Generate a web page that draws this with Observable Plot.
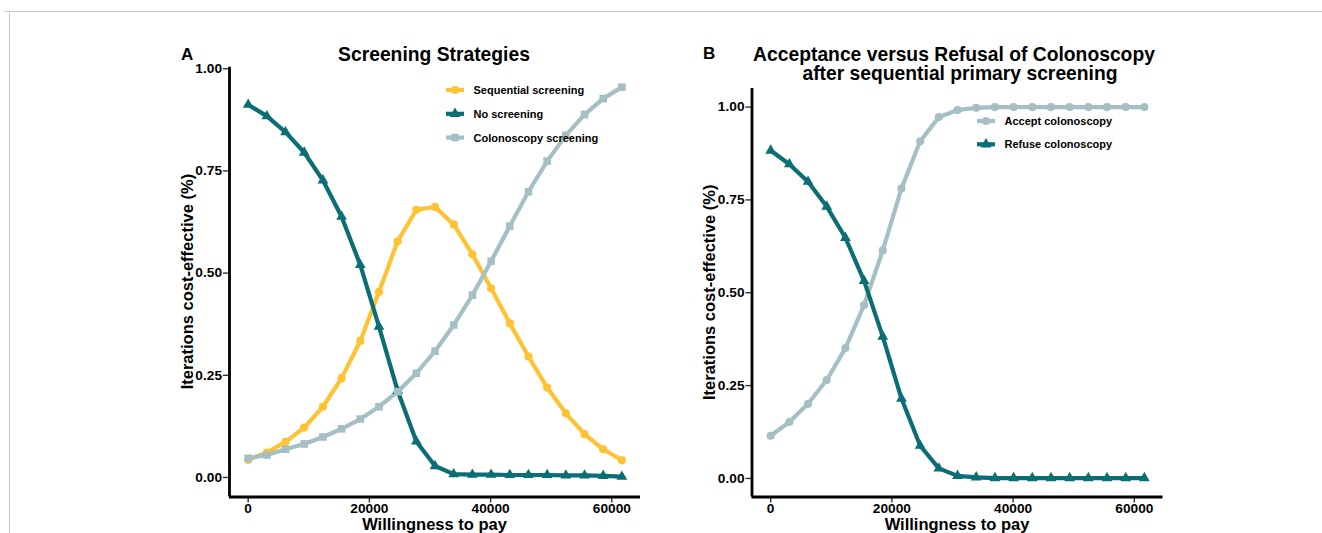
<!DOCTYPE html>
<html><head><meta charset="utf-8">
<script src="https://cdn.jsdelivr.net/npm/d3@7"></script>
<script src="https://cdn.jsdelivr.net/npm/@observablehq/plot@0.6"></script>
<style>
body{margin:0;background:#fff;}
#wrap{position:relative;width:1322px;height:533px;overflow:hidden;background:#fff;font-family:"Liberation Sans",Arial,sans-serif;}
.panel{position:absolute;top:0;}
#topline{position:absolute;left:4px;top:11px;width:1318px;height:1px;background:#c8c8c8;}
#leftline{position:absolute;left:9px;top:11px;width:1px;height:522px;background:#c8c8c8;}
</style></head><body>
<div id="wrap"><div id="topline"></div><div id="leftline"></div>
<div id="pa" class="panel" style="left:0px"></div>
<div id="pb" class="panel" style="left:661px"></div></div>
<script>
// ---- data ----
const wtp = [0, 3083, 6166, 9249, 12332, 15415, 18498, 21581, 24664, 27747, 30830, 33913, 36996, 40079, 43162, 46245, 49328, 52411, 55494, 58577, 61660];
const xTicks = [0, 20000, 40000, 60000];
const yTicks = [0, 0.25, 0.5, 0.75, 1];

const sequentialScreening = [0.043,0.061,0.087,0.122,0.173,0.243,0.334,0.454,0.578,0.655,0.662,0.619,0.546,0.463,0.377,0.296,0.220,0.157,0.106,0.069,0.042];
const noScreening        = [0.912,0.884,0.845,0.795,0.727,0.638,0.520,0.369,0.212,0.088,0.028,0.008,0.007,0.007,0.006,0.006,0.006,0.005,0.005,0.004,0.002];
const colonoscopyScreening = [0.047,0.055,0.069,0.082,0.099,0.119,0.143,0.173,0.210,0.255,0.309,0.373,0.446,0.529,0.615,0.699,0.774,0.837,0.888,0.927,0.955];

const acceptColonoscopy = [0.115,0.152,0.201,0.265,0.351,0.467,0.614,0.781,0.908,0.973,0.992,0.998,1,1,1,1,1,1,1,1,1];
const refuseColonoscopy = [0.883,0.846,0.799,0.732,0.648,0.532,0.382,0.215,0.088,0.027,0.007,0.003,0.001,0.001,0.001,0.001,0.001,0.001,0.001,0.001,0.001];

const YELLOW = "#FFC233", TEAL = "#0B6E75", GREY = "#A5C0C5";
const FONT = "'Liberation Sans', Arial, sans-serif";

const seriesA = [
  {name: "Sequential screening", values: sequentialScreening, color: YELLOW, symbol: "circle", r: 4.1},
  {name: "No screening", values: noScreening, color: TEAL, symbol: "triangle", r: 4.0},
  {name: "Colonoscopy screening", values: colonoscopyScreening, color: GREY, symbol: "square", r: 4.3}
];
const seriesB = [
  {name: "Accept colonoscopy", values: acceptColonoscopy, color: GREY, symbol: "circle", r: 4.1},
  {name: "Refuse colonoscopy", values: refuseColonoscopy, color: TEAL, symbol: "triangle", r: 4.0}
];

function makePanel(series, cfg) {
  const xDom = [-3082, 64732];
  const marks = [];
  const tables = series.map(s => wtp.map((x, i) => ({x, y: s.values[i]})));
  series.forEach((s, k) => marks.push(Plot.line(tables[k], {x: "x", y: "y", stroke: s.color, strokeWidth: 4.2, strokeLinejoin: "round", strokeLinecap: "round"})));
  series.forEach((s, k) => marks.push(Plot.dot(tables[k], {x: "x", y: "y", fill: s.color, stroke: "none", symbol: s.symbol, r: s.r})));
  marks.push(
    Plot.axisX({ticks: xTicks, tickFormat: d => String(d), tickSize: 6, tickPadding: 0, label: null, color: "black", stroke: "#333", strokeWidth: 1.4, fontSize: 13.7, fontWeight: "bold"}),
    Plot.axisY({ticks: yTicks, tickFormat: d3.format(".2f"), tickSize: 6, tickPadding: 1.5, label: null, color: "black", stroke: "#333", strokeWidth: 1.4, fontSize: 13.7, fontWeight: "bold"}),
    Plot.ruleX([xDom[0]], {stroke: "black", strokeWidth: 2.8}),
    Plot.ruleY([cfg.yDom[0]], {stroke: "black", strokeWidth: 2.8})
  );
  const svg = Plot.plot({
    width: 661, height: 533,
    marginLeft: cfg.ml, marginRight: cfg.mr, marginTop: cfg.mt, marginBottom: cfg.mb,
    x: {domain: xDom, label: null},
    y: {domain: cfg.yDom, label: null},
    style: {fontFamily: FONT, fontWeight: "bold", fontSize: "13.7px", color: "black", background: "transparent", overflow: "visible"},
    marks
  });
  const g = d3.select(svg);
  const ox = cfg.ox;
  const addText = (txt, x, y, size, anchor) =>
    g.append("text").attr("x", x - ox).attr("y", y).attr("font-size", size).attr("font-weight", "bold")
      .attr("font-family", FONT).attr("fill", "black").attr("text-anchor", anchor).text(txt);
  addText(cfg.letter, cfg.letterX, cfg.letterY, 17, "start");
  cfg.title.forEach(line => addText(line.text, line.x, line.y, 19.3, "middle"));
  const cx = (cfg.ml + 661 - cfg.mr) / 2 + ox;
  addText("Willingness to pay", cx, 530, 16.5, "middle");
  const cy = (cfg.mt + 533 - cfg.mb) / 2;
  g.append("text").attr("transform", `translate(${cfg.yTitleX - ox},${cy}) rotate(-90)`)
    .attr("font-size", 16.5).attr("font-weight", "bold").attr("font-family", FONT).attr("fill", "black")
    .attr("text-anchor", "middle").text("Iterations cost-effective (%)");
  // legend
  series.forEach((s, k) => {
    const y = cfg.legY + k * cfg.legStep;
    g.append("line").attr("x1", cfg.legX - ox).attr("x2", cfg.legX + 18 - ox).attr("y1", y).attr("y2", y)
      .attr("stroke", s.color).attr("stroke-width", 4.2);
    const sym = {circle: d3.symbolCircle, triangle: d3.symbolTriangle, square: d3.symbolSquare}[s.symbol];
    g.append("path").attr("d", d3.symbol(sym, s.r * s.r * Math.PI)()).attr("fill", s.color)
      .attr("transform", `translate(${cfg.legX + 9 - ox},${y})`);
    addText(s.name, cfg.legX + 27.5, y + 3.9, 11, "start");
  });
  return svg;
}

document.getElementById("pa").appendChild(makePanel(seriesA, {
  ox: 0, ml: 229, mr: 21, mt: 66.7, mb: 36.5, yDom: [-0.0478, 1.0038],
  letter: "A", letterX: 181, letterY: 59.5,
  title: [{text: "Screening Strategies", x: 434, y: 60.5}],
  yTitleX: 193.3, legX: 446, legY: 90, legStep: 23.8
}));
document.getElementById("pb").appendChild(makePanel(seriesB, {
  ox: 661, ml: 90.5, mr: 159.5, mt: 88, mb: 36.5, yDom: [-0.05, 1.05],
  letter: "B", letterX: 703, letterY: 58.5,
  title: [{text: "Acceptance versus Refusal of Colonoscopy", x: 954, y: 60.5}, {text: "after sequential primary screening", x: 960, y: 80}],
  yTitleX: 715, legX: 977, legY: 121, legStep: 23.3
}));
</script>
</body></html>
